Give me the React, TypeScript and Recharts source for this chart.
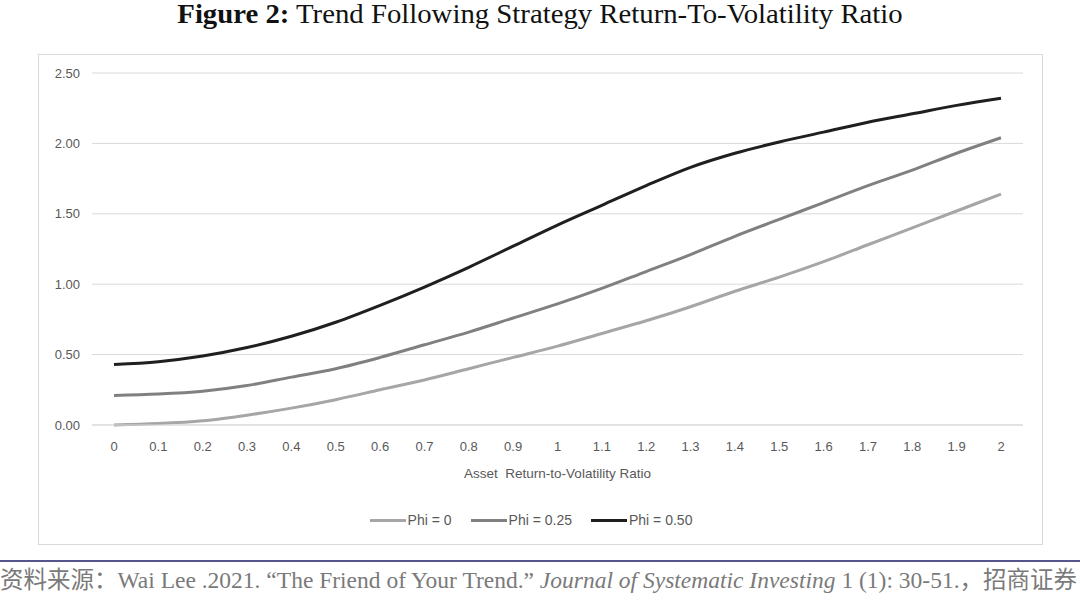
import React from 'react';
import { LineChart, Line, XAxis, YAxis, CartesianGrid, Legend, Label } from 'recharts';

const ratios = ['0', '0.1', '0.2', '0.3', '0.4', '0.5', '0.6', '0.7', '0.8', '0.9', '1', '1.1', '1.2', '1.3', '1.4', '1.5', '1.6', '1.7', '1.8', '1.9', '2'];
const phi0 = [0.0, 0.01, 0.03, 0.07, 0.12, 0.18, 0.25, 0.32, 0.4, 0.48, 0.56, 0.65, 0.74, 0.84, 0.95, 1.05, 1.16, 1.28, 1.4, 1.52, 1.64];
const phi025 = [0.21, 0.22, 0.24, 0.28, 0.34, 0.4, 0.48, 0.57, 0.66, 0.76, 0.86, 0.97, 1.09, 1.21, 1.34, 1.46, 1.58, 1.7, 1.81, 1.93, 2.04];
const phi050 = [0.43, 0.45, 0.49, 0.55, 0.63, 0.73, 0.85, 0.98, 1.12, 1.27, 1.42, 1.56, 1.7, 1.83, 1.93, 2.01, 2.08, 2.15, 2.21, 2.27, 2.32];
const yTicks = [0, 0.5, 1, 1.5, 2, 2.5];

const data = ratios.map((r, i) => ({ x: r, a: phi0[i], b: phi025[i], c: phi050[i] }));

const axisFont = '"Liberation Sans", Arial, sans-serif';
const textGrey = '#595959';

const LegendBox = ({ payload }: any) => (
    <div style={{ display: 'flex', justifyContent: 'center', gap: 19, fontFamily: axisFont, fontSize: 14, color: textGrey }}>
        {payload.map((p: any, i: number) => (
            <div key={i} style={{ display: 'flex', alignItems: 'center' }}>
                <span style={{ display: 'inline-block', width: 36, height: 3, background: p.color, marginRight: 2 }}></span>
                <span>{p.value}</span>
            </div>
        ))}
    </div>
);

export default function App() {
    return (
        <div style={{ position: 'absolute', left: 0, top: 0, width: 1080, height: 612, background: '#fff', overflow: 'hidden' }}>
            <div style={{ position: 'absolute', top: -1, left: 0, width: 1080, textAlign: 'center', fontFamily: '"Liberation Serif", serif', fontSize: 27, color: '#111', lineHeight: '30px', transform: 'scaleX(1.065)' }}>
                <b>Figure 2:</b> Trend Following Strategy Return-To-Volatility Ratio
            </div>
            <div style={{ position: 'absolute', left: 38, top: 54, width: 1005, height: 491, border: '1px solid #d9d9d9', boxSizing: 'border-box' }}>
                <LineChart width={1003} height={489} data={data} margin={{ top: 18, right: 19, bottom: 8, left: 0 }}>
                    <CartesianGrid stroke="#d9d9d9" vertical={false} />
                    <XAxis
                        dataKey="x"
                        padding={{ left: 22, right: 22 }}
                        axisLine={{ stroke: '#d9d9d9' }}
                        tickLine={false}
                        tickMargin={11}
                        height={91}
                        interval={0}
                        tick={{ fill: textGrey, fontSize: 13, fontFamily: axisFont }}
                    >
                        <Label value={'Asset\u00a0 Return-to-Volatility Ratio'} position="insideBottom" offset={38} style={{ fill: textGrey, fontSize: 13.5, fontFamily: axisFont }} />
                    </XAxis>
                    <YAxis
                        domain={[0, 2.5]}
                        ticks={yTicks}
                        width={53}
                        axisLine={false}
                        tickLine={false}
                        tickMargin={6}
                        tickFormatter={(v: number) => v.toFixed(2)}
                        tick={{ fill: textGrey, fontSize: 13, fontFamily: axisFont }}
                    />
                    <Legend verticalAlign="bottom" content={<LegendBox />} wrapperStyle={{ paddingTop: 4, bottom: 16 }} />
                    <Line type="monotone" dataKey="a" name="Phi = 0" stroke="#a6a6a6" strokeWidth={3} dot={false} isAnimationActive={false} />
                    <Line type="monotone" dataKey="b" name="Phi = 0.25" stroke="#808080" strokeWidth={3} dot={false} isAnimationActive={false} />
                    <Line type="monotone" dataKey="c" name="Phi = 0.50" stroke="#1f1f1f" strokeWidth={3} dot={false} isAnimationActive={false} />
                </LineChart>
            </div>
            <div style={{ position: 'absolute', left: 0, top: 560, width: 1080, height: 2, background: '#55558f' }}></div>
            <div style={{ position: 'absolute', left: 0, top: 565, width: 1080, whiteSpace: 'nowrap', fontFamily: '"Liberation Serif", "Noto Sans CJK SC", serif', fontSize: 23.5, color: '#7a7a7a', lineHeight: '30px' }}>
                资料来源：Wai Lee .2021. “The Friend of Your Trend.” <i>Journal of Systematic Investing</i> 1 (1): 30-51.，招商证券
            </div>
        </div>
    );
}
